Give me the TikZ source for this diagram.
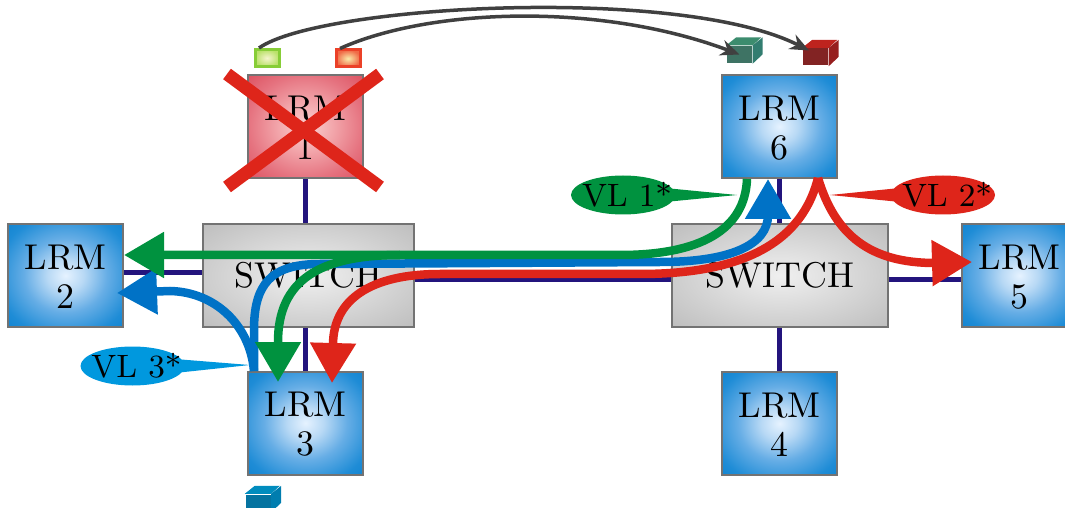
\documentclass[tikz,border=0pt]{standalone}
\usepackage{tikz}
\usetikzlibrary{arrows.meta,shapes.geometric}

\definecolor{linknavy}{RGB}{35,20,125}
\definecolor{vlgreen}{RGB}{0,146,63}
\definecolor{vlred}{RGB}{222,37,26}
\definecolor{vlblue}{RGB}{0,114,198}
\definecolor{tagblue}{RGB}{0,152,222}
\definecolor{srcgreen}{RGB}{135,205,55}
\definecolor{srcgreenin}{RGB}{245,245,205}
\definecolor{srcgreenout}{RGB}{185,225,105}
\definecolor{srcred}{RGB}{235,65,40}
\definecolor{srcredin}{RGB}{250,235,170}
\definecolor{srcredout}{RGB}{240,105,70}
\definecolor{cubegreenf}{RGB}{62,115,100}
\definecolor{cubegreent}{RGB}{60,140,110}
\definecolor{cubegreens}{RGB}{50,125,112}
\definecolor{cuberedf}{RGB}{130,35,35}
\definecolor{cuberedt}{RGB}{190,35,30}
\definecolor{cubereds}{RGB}{150,30,30}
\definecolor{cubebluef}{RGB}{5,115,160}
\definecolor{cubebluet}{RGB}{0,140,190}
\definecolor{cubeblues}{RGB}{0,125,175}

\pgfdeclareradialshading{lrmshade}{\pgfpointorigin}{rgb(0bp)=(0.9,0.95,1); rgb(8bp)=(0.72,0.85,0.96); rgb(18bp)=(0.4,0.68,0.9); rgb(30bp)=(0.12,0.55,0.84); rgb(42bp)=(0.02,0.49,0.8); rgb(70bp)=(0,0.45,0.74)}
\pgfdeclareradialshading{deadshade}{\pgfpointorigin}{rgb(0bp)=(0.98,0.82,0.82); rgb(12bp)=(0.95,0.65,0.67); rgb(25bp)=(0.9,0.45,0.5); rgb(40bp)=(0.85,0.27,0.33); rgb(70bp)=(0.82,0.18,0.27)}
\pgfdeclareradialshading{switchshade}{\pgfpointorigin}{rgb(0bp)=(0.94,0.94,0.94); rgb(20bp)=(0.83,0.83,0.83); rgb(40bp)=(0.72,0.72,0.72); rgb(70bp)=(0.62,0.62,0.62)}

\tikzset{
    lrmbox/.style={draw=black!55,line width=0.2mm,minimum width=11.5mm,minimum height=10.3mm,inner sep=0pt,align=center,
        font=\fontsize{10.2}{11}\selectfont,shading=lrmshade,text height=18.5pt,text depth=0pt},
    deadbox/.style={lrmbox,shading=deadshade},
    switchbox/.style={draw=black!55,line width=0.2mm,minimum height=10.3mm,inner sep=0pt,
        font=\fontsize{10.2}{11}\selectfont,shading=switchshade},
    link/.style={linknavy,line width=0.5mm},
    srcbox/.style={line width=0.3mm,inner sep=0pt,minimum width=2.4mm,minimum height=1.7mm},
    vltag/.style={ellipse,inner sep=0pt,minimum width=10.4mm,minimum height=3.9mm},
    every label/.style={font=\fontsize{9.2}{11}\selectfont,xshift=0.4mm},
    flow/.style={line width=0.85mm},
    flowhead/.style={-{Triangle[length=4mm,width=4.4mm]}},
    copyarc/.style={black!75,line width=0.35mm,-{Stealth[length=1.9mm,width=1.6mm]}}
}

\newcommand{\smallcube}[6]{
    \node[inner sep=0pt,minimum width=2.5mm,minimum height=1.7mm,fill=#4] (#1) at (#2,#3) {};
    \fill[#5] (#1.north west) -- ++(1mm,0.8mm) -- ++(2.5mm,0) -- (#1.north east) -- cycle;
    \fill[#6] (#1.north east) -- ++(1mm,0.8mm) -- ++(0,-1.7mm) -- (#1.south east) -- cycle;
}

\begin{document}
\begin{tikzpicture}[x=0.1mm,y=-0.1mm]
    \useasboundingbox (0,0) rectangle (1065,508);
    \clip (0,0) rectangle (1065,508);

    \node[switchbox,minimum width=21.1mm] (sw1) at (308.5,275.5) {SWITCH};
    \node[switchbox,minimum width=21.6mm] (sw2) at (780,275.5) {SWITCH};
    \node[deadbox] (lrm1) at (305.5,126.5) {LRM\\1};
    \node[lrmbox] (lrm2) at (65.5,275.5) {LRM\\2};
    \node[lrmbox] (lrm3) at (305.5,423) {LRM\\3};
    \node[lrmbox] (lrm4) at (779.5,423.5) {LRM\\4};
    \node[lrmbox] (lrm5) at (1019.5,275.5) {LRM\\5};
    \node[lrmbox] (lrm6) at (779.5,126.5) {LRM\\6};

    \draw[link] (lrm1.south) -- (lrm1.south |- sw1.north);
    \draw[link] (lrm3.north) -- (lrm3.north |- sw1.south);
    \draw[link] ([yshift=0.25mm]lrm2.east) -- ([yshift=0.25mm]sw1.west);
    \draw[link] ([yshift=-0.45mm]sw1.east) -- ([yshift=-0.45mm]sw2.west);
    \draw[link] ([yshift=-0.45mm]sw2.east) -- ([yshift=-0.45mm]lrm5.west);
    \draw[link] (lrm6.south) -- (lrm6.south |- sw2.north);
    \draw[link] (lrm4.north) -- (lrm4.north |- sw2.south);

    \node[srcbox,draw=srcgreen,inner color=srcgreenin,outer color=srcgreenout] (src1) at (267,58) {};
    \node[srcbox,draw=srcred,inner color=srcredin,outer color=srcredout] (src2) at (348,58.5) {};
    \smallcube{dest1}{739.5}{54.5}{cubegreenf}{cubegreent}{cubegreens}
    \smallcube{dest2}{815.5}{57}{cuberedf}{cuberedt}{cubereds}
    \smallcube{dest3}{258}{503}{cubebluef}{cubebluet}{cubeblues}

    \draw[copyarc] ([xshift=-0.8mm]src1.north) .. controls (320,5) and (680,-15) .. ([xshift=-0.65mm,yshift=0.65mm]dest2.center);
    \draw[copyarc] ([xshift=-0.8mm]src2.north) .. controls (430,8) and (600,2) .. (dest1.center);

    \coordinate (crossnw) at (227,74);
    \coordinate (crossne) at (380,74);
    \coordinate (crosssw) at (227,187);
    \coordinate (crossse) at (380,187);
    \draw[vlred,line width=1.3mm] (crossnw) -- (crossse);
    \draw[vlred,line width=1.3mm] (crossne) -- (crosssw);

    \coordinate (bluejoin) at (254,371);
    \draw[vlblue,flow,flowhead] (bluejoin) -- (254,330) .. controls (254,285) and (270,264) .. (320,264) -- (660,262) .. controls (730,262) and (768,245) .. (768,215) -- ([xshift=-1.15mm]lrm6.south);
    \draw[vlblue,flow,flowhead] (bluejoin) .. controls (250,325) and (215,292) .. (170,291) -- (117,293);

    \coordinate (redjoin) at (818,178);
    \coordinate (redtip) at (332,383);
    \draw[vlred,flow,flowhead] (redjoin) .. controls (800,250) and (730,274) .. (640,274) -- (440,274) .. controls (370,274) and (333,300) .. (333,345) -- (redtip);
    \draw[vlred,flow,flowhead] (redjoin) .. controls (835,235) and (870,263) .. (935,263) -- (972,262);

    \coordinate (greenjoin) at (400,255);
    \coordinate (greentip) at (278,382);
    \draw[vlgreen,flow,flowhead] ([xshift=-3.25mm]lrm6.south) .. controls (745,230) and (700,255) .. (620,255) -- ([yshift=2.05mm]lrm2.east);
    \draw[vlgreen,flow,flowhead] (greenjoin) .. controls (320,255) and (278,280) .. (278,342) -- (greentip);

    \coordinate (tagtip1) at (737,195);
    \coordinate (tagtip2) at (830,195);
    \coordinate (tagtip3) at (250,365);
    \fill[vlgreen] (665,188) -- (tagtip1) -- (665,202) -- cycle;
    \fill[vlred] (900,188) -- (tagtip2) -- (900,202) -- cycle;
    \fill[tagblue] (175,359) -- (tagtip3) -- (175,373) -- cycle;
    \node[vltag,fill=vlgreen,label=center:{VL 1*}] (tag1) at (623,195) {};
    \node[vltag,fill=vlred,label=center:{VL 2*}] (tag2) at (943,195) {};
    \node[vltag,fill=tagblue,label=center:{VL 3*}] (tag3) at (132.5,366) {};
\end{tikzpicture}
\end{document}
